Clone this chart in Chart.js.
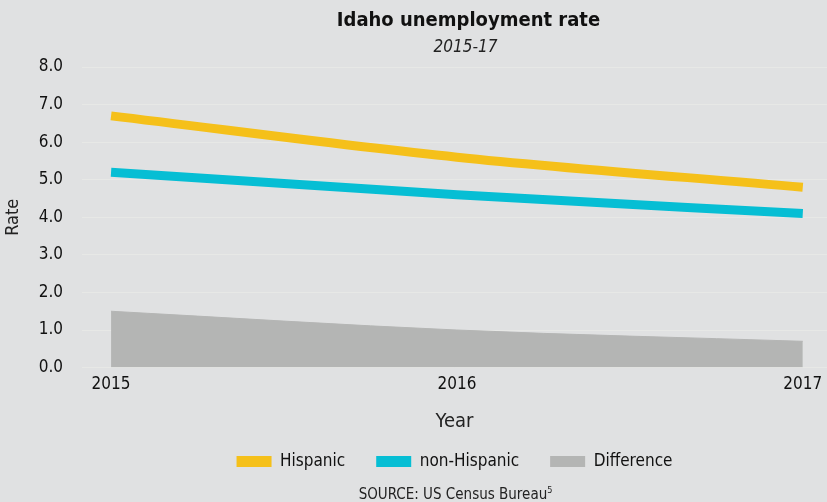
<!DOCTYPE html>
<html>
<head>
<meta charset="utf-8">
<script src="https://cdn.jsdelivr.net/npm/chart.js@4.4.1/dist/chart.umd.min.js"></script>
<style>
  html, body { margin: 0; padding: 0; background: #e0e1e2; }
  body { width: 827px; height: 502px; position: relative; overflow: hidden;
         font-family: "Liberation Sans Narrow", "DejaVu Sans Condensed", Roboto, sans-serif; color: #111; }
  #wrap { position: absolute; left: 0; top: 0; width: 827px; height: 502px; }
  .t { position: absolute; left: 0; width: 100%; text-align: center; white-space: nowrap; }
  #title { top: 7px; left: 55px; font-weight: bold; font-size: 20px; }
  #sub { top: 36px; left: 52px; font-style: italic; font-size: 17px; color: #222; }
  #src { top: 485px; left: 42px; font-size: 15px; color: #222; }
  #src sup { font-size: 9px; }
</style>
</head>
<body>
<div id="wrap"><canvas id="grafico" width="827" height="502"></canvas></div>
<div class="t" id="title">Idaho unemployment rate</div>
<div class="t" id="sub">2015-17</div>
<div class="t" id="src">SOURCE: US Census Bureau<sup>5</sup></div>
<script>
const years = [2015, 2016, 2017];
const hispanic = [6.7, 5.6, 4.8];
const nonHispanic = [5.2, 4.6, 4.1];
const difference = [1.5, 1.0, 0.7];
const yTicks = [0, 1, 2, 3, 4, 5, 6, 7, 8];

const fuente = '"Liberation Sans Narrow", "DejaVu Sans Condensed", Roboto, sans-serif';

function puntos(valores) {
  return years.map((year, i) => ({ x: year, y: valores[i] }));
}

const config = {
  type: "line",
  data: {
    datasets: [
      {
        label: "Hispanic",
        data: puntos(hispanic),
        borderColor: "#f5c01a",
        backgroundColor: "#f5c01a",
        borderWidth: 9,
        pointRadius: 0,
        cubicInterpolationMode: "monotone",
        fill: false,
      },
      {
        label: "non-Hispanic",
        data: puntos(nonHispanic),
        borderColor: "#06bed4",
        backgroundColor: "#06bed4",
        borderWidth: 9,
        pointRadius: 0,
        cubicInterpolationMode: "monotone",
        fill: false,
      },
      {
        label: "Difference",
        data: puntos(difference),
        borderColor: "#b4b5b4",
        backgroundColor: "#b4b5b4",
        borderWidth: 1,
        pointRadius: 0,
        cubicInterpolationMode: "monotone",
        fill: "origin",
      },
    ],
  },
  options: {
    responsive: false,
    animation: false,
    layout: { padding: { top: 67, right: 0, bottom: 22, left: 0 } },
    plugins: {
      tooltip: { enabled: false },
      legend: {
        position: "bottom",
        fullSize: false,
        labels: {
          boxWidth: 35,
          boxHeight: 11,
          padding: 31,
          color: "#111",
          font: { family: fuente, size: 17 },
          generateLabels(chart) {
            return chart.data.datasets.map((ds, i) => ({
              text: ds.label,
              fillStyle: ds.backgroundColor,
              strokeStyle: ds.backgroundColor,
              lineWidth: 0,
              hidden: false,
              datasetIndex: i,
              fontColor: "#111",
            }));
          },
        },
      },
    },
    scales: {
      x: {
        type: "linear",
        min: 2014.916,
        max: 2017.07,
        afterBuildTicks(scale) {
          scale.ticks = years.map(v => ({ value: v }));
        },
        afterFit(scale) {
          scale.paddingRight = 0;
        },
        grid: { display: false, drawTicks: false },
        border: { display: false },
        ticks: {
          padding: 7,
          color: "#111",
          font: { family: fuente, size: 17 },
          callback: v => String(v),
          maxRotation: 0,
        },
        title: {
          display: true,
          text: "Year",
          color: "#222",
          font: { family: fuente, size: 20 },
          padding: { top: 8, bottom: -12 },
        },
      },
      y: {
        min: 0,
        max: 8,
        afterBuildTicks(scale) {
          scale.ticks = yTicks.map(v => ({ value: v }));
        },
        afterFit(scale) {
          scale.width = 82;
        },
        grid: { color: "#e7e8e6", lineWidth: 1, drawTicks: false },
        border: { display: false },
        ticks: {
          padding: 19,
          color: "#111",
          font: { family: fuente, size: 17 },
          callback: v => v.toFixed(1),
        },
        title: {
          display: true,
          text: "Rate",
          color: "#222",
          font: { family: fuente, size: 18 },
          padding: { top: 3, bottom: 4 },
        },
      },
    },
  },
};

const lienzo = document.getElementById("grafico");
lienzo.chart = new Chart(lienzo, config);
</script>
</body>
</html>
